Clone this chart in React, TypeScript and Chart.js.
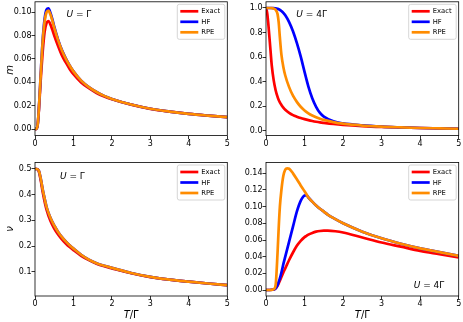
import React, { useEffect, useRef } from 'react';
import { Chart, registerables } from 'chart.js';

Chart.register(...registerables);

// ---------- data ----------
const SERIES_NAMES = ['Exact', 'HF', 'RPE'];
const SERIES_COLORS = ['#ff0000', '#0000ff', '#ff8c00'];
const X_TICKS = [0, 1, 2, 3, 4, 5];

// m, U = Γ
const T_M1 = [0, 0.04, 0.07, 0.1, 0.13, 0.16, 0.2, 0.25, 0.3, 0.35, 0.4, 0.45, 0.5, 0.6, 0.7, 0.8, 0.9, 1.0, 1.2, 1.4, 1.6, 1.8, 2.0, 2.5, 3.0, 3.5, 4.0, 4.5, 5.0];
const M1_EXACT = [0, 0.0005, 0.004, 0.016, 0.032, 0.048, 0.066, 0.083, 0.0905, 0.0922, 0.0895, 0.085, 0.08, 0.071, 0.063, 0.057, 0.0515, 0.047, 0.04, 0.035, 0.031, 0.028, 0.0256, 0.021, 0.0174, 0.015, 0.0131, 0.0116, 0.0103];
const M1_HF = [0, 0.0005, 0.004, 0.017, 0.035, 0.054, 0.076, 0.094, 0.102, 0.1032, 0.0995, 0.094, 0.0875, 0.0765, 0.0675, 0.0605, 0.0545, 0.0495, 0.0415, 0.036, 0.0318, 0.0285, 0.0259, 0.0211, 0.0175, 0.0151, 0.0131, 0.0116, 0.0103];
const M1_RPE = [0, 0.0005, 0.004, 0.017, 0.035, 0.053, 0.075, 0.092, 0.0998, 0.1012, 0.098, 0.0928, 0.0866, 0.076, 0.0672, 0.0603, 0.0544, 0.0494, 0.0415, 0.036, 0.0318, 0.0285, 0.0259, 0.0211, 0.0175, 0.0151, 0.0131, 0.0116, 0.0103];
const YTICKS_M1 = [0, 0.02, 0.04, 0.06, 0.08, 0.1];

// m, U = 4Γ
const T_M4 = [0, 0.03, 0.06, 0.1, 0.15, 0.2, 0.25, 0.3, 0.33, 0.36, 0.4, 0.45, 0.5, 0.6, 0.7, 0.8, 0.9, 1.0, 1.1, 1.2, 1.3, 1.4, 1.5, 1.75, 2.0, 2.5, 3.0, 3.5, 4.0, 4.5, 5.0];
const M4_EXACT = [1.0, 0.96, 0.87, 0.72, 0.53, 0.41, 0.33, 0.275, 0.25, 0.23, 0.21, 0.188, 0.17, 0.145, 0.127, 0.114, 0.103, 0.094, 0.086, 0.079, 0.073, 0.068, 0.064, 0.055, 0.048, 0.038, 0.031, 0.026, 0.022, 0.019, 0.016];
const M4_HF = [1.0, 1.0, 1.0, 1.0, 1.0, 0.999, 0.997, 0.993, 0.99, 0.985, 0.975, 0.96, 0.94, 0.885, 0.81, 0.715, 0.605, 0.48, 0.36, 0.265, 0.195, 0.145, 0.115, 0.076, 0.059, 0.043, 0.033, 0.027, 0.022, 0.019, 0.016];
const M4_RPE = [1.0, 1.0, 1.0, 1.0, 0.999, 0.995, 0.985, 0.95, 0.88, 0.76, 0.62, 0.52, 0.45, 0.355, 0.285, 0.235, 0.195, 0.165, 0.142, 0.124, 0.11, 0.098, 0.088, 0.07, 0.057, 0.042, 0.033, 0.027, 0.022, 0.019, 0.016];
const YTICKS_M4 = [0, 0.2, 0.4, 0.6, 0.8, 1.0];

// ν, U = Γ
const T_N1 = [0, 0.05, 0.1, 0.15, 0.2, 0.25, 0.3, 0.4, 0.5, 0.6, 0.7, 0.8, 0.9, 1.0, 1.2, 1.4, 1.6, 1.8, 2.0, 2.5, 3.0, 3.5, 4.0, 4.5, 5.0];
const N1_EXACT = [0.5, 0.5, 0.49, 0.455, 0.41, 0.373, 0.342, 0.298, 0.268, 0.245, 0.226, 0.21, 0.196, 0.184, 0.162, 0.145, 0.131, 0.121, 0.113, 0.094, 0.079, 0.069, 0.061, 0.054, 0.048];
const N1_HF = [0.5, 0.5, 0.493, 0.462, 0.42, 0.385, 0.352, 0.31, 0.28, 0.255, 0.235, 0.218, 0.203, 0.19, 0.166, 0.147, 0.133, 0.123, 0.115, 0.095, 0.08, 0.069, 0.061, 0.054, 0.048];
const N1_RPE = [0.5, 0.5, 0.493, 0.462, 0.42, 0.385, 0.352, 0.31, 0.28, 0.255, 0.235, 0.218, 0.203, 0.19, 0.166, 0.147, 0.133, 0.123, 0.115, 0.095, 0.08, 0.069, 0.061, 0.054, 0.048];
const YTICKS_N1 = [0.1, 0.2, 0.3, 0.4, 0.5];

// ν, U = 4Γ
const T_N4 = [0, 0.1, 0.2, 0.25, 0.3, 0.33, 0.36, 0.4, 0.45, 0.5, 0.55, 0.6, 0.7, 0.8, 0.9, 1.0, 1.05, 1.1, 1.2, 1.3, 1.4, 1.5, 1.6, 1.8, 2.0, 2.5, 3.0, 3.5, 4.0, 4.5, 5.0];
const N4_EXACT = [0, 0, 0.0005, 0.002, 0.005, 0.008, 0.011, 0.0155, 0.021, 0.026, 0.031, 0.036, 0.045, 0.053, 0.059, 0.0635, 0.065, 0.0665, 0.0685, 0.07, 0.0708, 0.0712, 0.0712, 0.0705, 0.069, 0.063, 0.057, 0.052, 0.047, 0.043, 0.039];
const N4_HF = [0, 0, 0.0005, 0.002, 0.006, 0.01, 0.014, 0.021, 0.031, 0.04, 0.049, 0.058, 0.076, 0.094, 0.107, 0.1135, 0.1138, 0.111, 0.106, 0.1015, 0.0975, 0.094, 0.0905, 0.085, 0.08, 0.07, 0.062, 0.0555, 0.05, 0.0455, 0.041];
const N4_RPE = [0, 0, 0.001, 0.006, 0.045, 0.075, 0.1, 0.12, 0.137, 0.1445, 0.146, 0.1455, 0.14, 0.133, 0.1255, 0.1185, 0.1148, 0.111, 0.106, 0.1015, 0.0975, 0.094, 0.0905, 0.085, 0.08, 0.07, 0.062, 0.0555, 0.05, 0.0455, 0.041];
const YTICKS_N4 = [0, 0.02, 0.04, 0.06, 0.08, 0.1, 0.12, 0.14];

// ---------- layout ----------
const FONT = 'DejaVu Sans';
const YW = 30;
const XH = 14;

type Part = [string, boolean];
type Panel = {
  canvas: [number, number, number, number];
  plot: [number, number, number, number];
  T: number[];
  series: number[][];
  yMin: number;
  yMax: number;
  yTicks: number[];
  dec: number;
  ylabel?: Part[];
  ylabelPos?: [number, number];
  xlabel: boolean;
  ann: Part[];
  annPos: [number, number];
};

const PANELS: Panel[] = [
  {
    canvas: [0, 0, 232, 160], plot: [35, 1.8, 227.3, 135.6],
    T: T_M1, series: [M1_EXACT, M1_HF, M1_RPE],
    yMin: -0.00537, yMax: 0.1087, yTicks: YTICKS_M1, dec: 2,
    ylabel: [['m', true]], ylabelPos: [10, 70], xlabel: false,
    ann: [['U', true], [' = Γ', false]], annPos: [66.5, 17.3],
  },
  {
    canvas: [232, 0, 231, 160], plot: [266, 1.8, 458.7, 135.6],
    T: T_M4, series: [M4_EXACT, M4_HF, M4_RPE],
    yMin: -0.04, yMax: 1.0505, yTicks: YTICKS_M4, dec: 1, xlabel: false,
    ann: [['U', true], [' = 4Γ', false]], annPos: [296.3, 17.3],
  },
  {
    canvas: [0, 160, 232, 162], plot: [35, 162.5, 227.3, 296],
    T: T_N1, series: [N1_EXACT, N1_HF, N1_RPE],
    yMin: 0.00535, yMax: 0.5253, yTicks: YTICKS_N1, dec: 1,
    ylabel: [['ν', true]], ylabelPos: [10, 229], xlabel: true,
    ann: [['U', true], [' = Γ', false]], annPos: [60, 179],
  },
  {
    canvas: [232, 160, 231, 162], plot: [266, 162.5, 458.7, 296],
    T: T_N4, series: [N4_EXACT, N4_HF, N4_RPE],
    yMin: -0.0072, yMax: 0.153, yTicks: YTICKS_N4, dec: 2, xlabel: true,
    ann: [['U', true], [' = 4Γ', false]], annPos: [413.7, 287.7],
  },
];

function drawParts(ctx: CanvasRenderingContext2D, parts: Part[], x: number, y: number, size: number, center: boolean) {
  let total = 0;
  const widths = parts.map(([s, it]) => {
    ctx.font = `${it ? 'italic ' : ''}${size}px "${FONT}"`;
    const w = ctx.measureText(s).width;
    total += w;
    return w;
  });
  let cx = center ? x - total / 2 : x;
  ctx.textAlign = 'left';
  parts.forEach(([s, it], i) => {
    ctx.font = `${it ? 'italic ' : ''}${size}px "${FONT}"`;
    ctx.fillText(s, cx, y);
    cx += widths[i];
  });
}

function PanelChart({ p }: { p: Panel }) {
  const ref = useRef<HTMLCanvasElement>(null);
  const [cl, ct, cw, ch] = p.canvas;
  useEffect(() => {
    const [x1, y1, x2, y2] = p.plot;
    const decor = {
      id: 'decor',
      afterDatasetsDraw(chart: any) {
        const ctx: CanvasRenderingContext2D = chart.ctx;
        const a = chart.chartArea;
        ctx.save();
        // frame
        ctx.strokeStyle = '#000';
        ctx.lineWidth = 0.8;
        ctx.strokeRect(a.left, a.top, a.right - a.left, a.bottom - a.top);
        // legend
        const LWID = 47.5, LHGT = 35;
        const lx = a.right - 2.5 - LWID;
        const ly = a.top + 2.5;
        ctx.beginPath();
        (ctx as any).roundRect(lx, ly, LWID, LHGT, 2);
        ctx.fillStyle = 'rgba(255,255,255,0.8)';
        ctx.fill();
        ctx.strokeStyle = '#cccccc';
        ctx.lineWidth = 0.8;
        ctx.stroke();
        SERIES_NAMES.forEach((name, i) => {
          const ry = ly + 7 + i * 10.5;
          ctx.beginPath();
          ctx.moveTo(lx + 3, ry);
          ctx.lineTo(lx + 21, ry);
          ctx.strokeStyle = SERIES_COLORS[i];
          ctx.lineWidth = 2.7;
          ctx.stroke();
          ctx.fillStyle = '#000';
          ctx.font = `6.8px "${FONT}"`;
          ctx.textAlign = 'left';
          ctx.textBaseline = 'middle';
          ctx.fillText(name, lx + 24, ry + 0.3);
        });
        // annotation
        ctx.fillStyle = '#000';
        ctx.textBaseline = 'alphabetic';
        drawParts(ctx, p.ann, p.annPos[0] - cl, p.annPos[1] - ct, 9, false);
        // y label
        if (p.ylabel && p.ylabelPos) {
          ctx.save();
          ctx.translate(p.ylabelPos[0] - cl, p.ylabelPos[1] - ct);
          ctx.rotate(-Math.PI / 2);
          ctx.textBaseline = 'middle';
          drawParts(ctx, p.ylabel, 0, 0, 10, true);
          ctx.restore();
        }
        // x label
        if (p.xlabel) {
          ctx.textBaseline = 'alphabetic';
          drawParts(ctx, [['T', true], ['/Γ', false]], (a.left + a.right) / 2, 318 - ct, 10, true);
        }
        ctx.restore();
      },
    };
    const chart = new Chart(ref.current as HTMLCanvasElement, {
      type: 'line',
      data: {
        datasets: p.series.map((ys, i) => ({
          label: SERIES_NAMES[i],
          data: p.T.map((t, j) => ({ x: t, y: ys[j] })),
          borderColor: SERIES_COLORS[i],
          backgroundColor: SERIES_COLORS[i],
          borderWidth: 2.7,
          pointRadius: 0,
          fill: false,
          cubicInterpolationMode: 'monotone' as const,
          order: 3 - i,
        })),
      },
      options: {
        responsive: false,
        animation: false,
        devicePixelRatio: 1,
        events: [],
        layout: {
          padding: { left: x1 - cl - YW, right: cl + cw - x2, top: y1 - ct, bottom: ct + ch - y2 - XH },
        },
        plugins: { legend: { display: false }, tooltip: { enabled: false }, title: { display: false } },
        scales: {
          x: {
            type: 'linear',
            min: 0,
            max: 5,
            afterBuildTicks: (s: any) => { s.ticks = X_TICKS.map((v) => ({ value: v })); },
            afterFit: (s: any) => { s.height = XH; s.paddingLeft = 0; s.paddingRight = 0; s.paddingTop = 0; s.paddingBottom = 0; },
            grid: { drawOnChartArea: false, drawTicks: true, tickLength: 3.5, color: '#000', lineWidth: 0.8 },
            border: { display: false },
            ticks: {
              font: { family: FONT, size: 8 }, color: '#000', padding: 0, maxRotation: 0, minRotation: 0, autoSkip: false,
              callback: (v: any) => String(v),
            },
          },
          y: {
            type: 'linear',
            min: p.yMin,
            max: p.yMax,
            afterBuildTicks: (s: any) => { s.ticks = p.yTicks.map((v) => ({ value: v })); },
            afterFit: (s: any) => { s.width = YW; s.paddingLeft = 0; s.paddingRight = 0; s.paddingTop = 0; s.paddingBottom = 0; },
            grid: { drawOnChartArea: false, drawTicks: true, tickLength: 3.5, color: '#000', lineWidth: 0.8 },
            border: { display: false },
            ticks: {
              font: { family: FONT, size: 8 }, color: '#000', padding: 0, autoSkip: false,
              callback: (v: any) => Number(v).toFixed(p.dec),
            },
          },
        },
      },
      plugins: [decor],
    } as any);
    return () => chart.destroy();
  }, []);
  return (
    <canvas
      ref={ref}
      width={cw}
      height={ch}
      style={{ position: 'absolute', left: cl, top: ct, width: cw, height: ch }}
    />
  );
}

export default function App() {
  useEffect(() => {
    document.body.style.margin = '0';
    document.body.style.background = '#fff';
  }, []);
  return (
    <div style={{ position: 'relative', width: 463, height: 322, background: '#fff', overflow: 'hidden' }}>
      {PANELS.map((p, i) => (
        <PanelChart key={i} p={p} />
      ))}
    </div>
  );
}
